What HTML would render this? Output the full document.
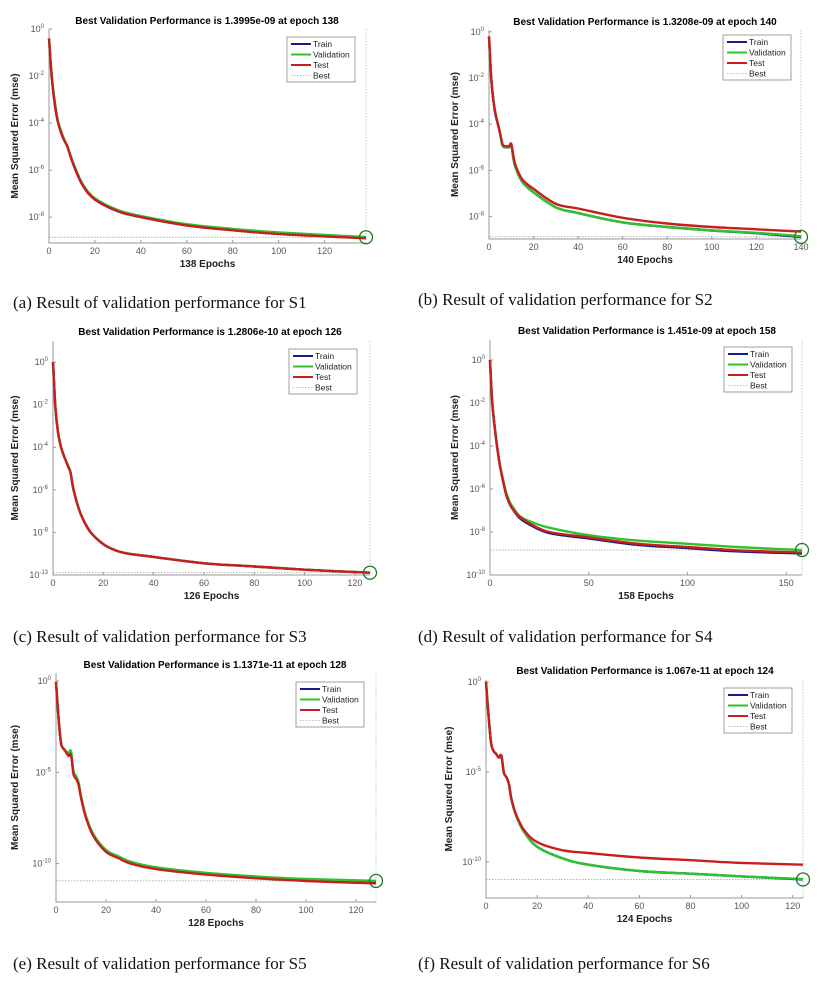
<!DOCTYPE html>
<html><head><meta charset="utf-8"><style>
html,body{margin:0;padding:0;background:#fff;width:817px;height:984px;overflow:hidden}
svg{display:block}
.cap{font-family:"Liberation Serif",serif;font-size:17px;fill:#111}
.ttl{font-family:"Liberation Sans",sans-serif;font-size:10px;font-weight:bold;fill:#000}
.tk{font-family:"Liberation Sans",sans-serif;font-size:9px;fill:#555}
.sup{font-size:6px}
.lab{font-family:"Liberation Sans",sans-serif;font-size:10px;font-weight:bold;fill:#222}
.leg{font-family:"Liberation Sans",sans-serif;font-size:8.5px;fill:#222}
</style></head><body>
<svg id="fig" width="817" height="984" viewBox="0 0 817 984" xmlns="http://www.w3.org/2000/svg"></svg>
<script>
// ---- data (log10 of MSE) ----
const epochsA=[0,1,2,3,4,6,8,10,12,15,20,30,40,60,80,100,120,138];
const trainA=[-0.4,-1.8,-2.8,-3.5,-4.0,-4.6,-5.0,-5.6,-6.1,-6.7,-7.25,-7.75,-8.0,-8.35,-8.55,-8.7,-8.8,-8.87];
const valA=[-0.4,-1.8,-2.7,-3.4,-3.95,-4.55,-5.0,-5.55,-6.05,-6.65,-7.2,-7.7,-7.95,-8.3,-8.5,-8.65,-8.76,-8.85];
const testA=[-0.4,-1.8,-2.8,-3.5,-4.0,-4.6,-5.0,-5.6,-6.1,-6.7,-7.25,-7.75,-8.0,-8.35,-8.56,-8.72,-8.82,-8.9];

const epochsB=[0,1,2,3,4,5,6,7,8,9,10,11,12,15,20,30,40,60,80,100,120,140];
const trainB=[-0.2,-2.0,-3.0,-3.6,-4.0,-4.4,-4.9,-5.0,-5.0,-5.0,-4.9,-5.5,-5.9,-6.5,-6.95,-7.6,-7.85,-8.25,-8.45,-8.6,-8.72,-8.88];
const valB=[-0.2,-2.0,-3.0,-3.6,-4.0,-4.4,-4.9,-5.0,-5.0,-5.0,-4.9,-5.5,-5.9,-6.5,-6.95,-7.6,-7.85,-8.25,-8.45,-8.6,-8.7,-8.85];
const testB=[-0.2,-2.0,-3.0,-3.6,-4.0,-4.4,-4.85,-4.95,-4.95,-4.95,-4.85,-5.4,-5.8,-6.4,-6.8,-7.45,-7.65,-8.05,-8.3,-8.45,-8.55,-8.65];

const epochsC=[0,1,2,3,4,5,6,7,8,10,12,15,20,25,30,40,60,80,100,126];
const trainC=[0,-2.2,-3.3,-3.9,-4.3,-4.6,-4.9,-5.2,-5.9,-6.8,-7.4,-8.0,-8.55,-8.85,-9.0,-9.15,-9.45,-9.6,-9.75,-9.89];
const valC=[0,-2.2,-3.3,-3.9,-4.3,-4.6,-4.85,-5.2,-5.9,-6.8,-7.4,-8.0,-8.55,-8.85,-9.0,-9.15,-9.45,-9.6,-9.75,-9.89];
const testC=[0,-2.2,-3.3,-3.9,-4.3,-4.6,-4.9,-5.2,-5.9,-6.8,-7.4,-8.0,-8.55,-8.85,-9.0,-9.15,-9.45,-9.6,-9.75,-9.89];

const epochsD=[0,1,2,3,4,5,6,8,10,12,15,20,30,50,75,100,125,158];
const trainD=[0,-1.8,-2.8,-3.6,-4.3,-4.9,-5.35,-6.2,-6.7,-7.0,-7.35,-7.65,-8.05,-8.3,-8.6,-8.75,-8.9,-9.0];
const valD=[0,-1.8,-2.8,-3.6,-4.3,-4.9,-5.3,-6.1,-6.6,-6.9,-7.25,-7.5,-7.8,-8.15,-8.4,-8.55,-8.7,-8.84];
const testD=[0,-1.8,-2.8,-3.6,-4.3,-4.9,-5.35,-6.2,-6.7,-7.0,-7.3,-7.6,-8.0,-8.25,-8.55,-8.7,-8.85,-8.96];

const epochsE=[0,1,2,3,4,5,6,7,8,9,10,12,15,20,25,30,40,60,80,100,128];
const trainE=[-0.05,-2.0,-3.4,-3.7,-3.85,-4.0,-4.0,-5.05,-5.3,-5.6,-6.35,-7.45,-8.45,-9.3,-9.65,-9.95,-10.25,-10.55,-10.75,-10.9,-11.05];
const valE=[-0.05,-2.0,-3.4,-3.7,-3.85,-3.95,-3.85,-4.95,-5.2,-5.55,-6.3,-7.4,-8.4,-9.25,-9.6,-9.9,-10.2,-10.5,-10.7,-10.84,-10.94];
const testE=[-0.05,-2.0,-3.4,-3.7,-3.9,-4.1,-4.05,-5.1,-5.35,-5.65,-6.4,-7.5,-8.5,-9.35,-9.7,-10.0,-10.3,-10.6,-10.8,-10.95,-11.08];

const epochsF=[0,1,2,3,4,5,6,7,8,9,10,12,15,20,30,40,60,80,100,124];
const trainF=[0,-1.9,-3.4,-3.85,-4.0,-4.2,-4.1,-5.05,-5.3,-5.7,-6.55,-7.5,-8.35,-9.15,-9.8,-10.15,-10.5,-10.65,-10.8,-10.97];
const valF=[0,-1.9,-3.4,-3.85,-4.0,-4.2,-4.1,-5.05,-5.3,-5.7,-6.55,-7.5,-8.35,-9.15,-9.8,-10.15,-10.5,-10.65,-10.8,-10.95];
const testF=[0,-1.9,-3.4,-3.85,-4.0,-4.2,-4.1,-5.05,-5.3,-5.7,-6.55,-7.45,-8.25,-8.9,-9.35,-9.5,-9.75,-9.9,-10.05,-10.15];

const bestVals=[-8.854,-8.879,-9.893,-8.838,-10.944,-10.972];
const bestEpochs=[138,140,126,158,128,124];
const titles=["1.3995e-09 at epoch 138","1.3208e-09 at epoch 140","1.2806e-10 at epoch 126","1.451e-09 at epoch 158","1.1371e-11 at epoch 128","1.067e-11 at epoch 124"];
const yTicksAB=[0,-2,-4,-6,-8];
const yTicksCD=[0,-2,-4,-6,-8,-10];
const yTicksEF=[0,-5,-10];
const yTickLabC=["0","-2","-4","-6","-8","-13"];
const xTicksA=[0,20,40,60,80,100,120];
const xTicksB=[0,20,40,60,80,100,120,140];
const xTicksD=[0,50,100,150];
const captions=["(a) Result of validation performance for S1","(b) Result of validation performance for S2","(c) Result of validation performance for S3","(d) Result of validation performance for S4","(e) Result of validation performance for S5","(f) Result of validation performance for S6"];
const letters=["a","b","c","d","e","f"];

// ---- layout ----
const panels=[
 {ep:epochsA,tr:trainA,va:valA,te:testA,x0:49,x1:366,xmax:138,y0:29,y1:243,ytop:0,ybot:-9.1,yt:yTicksAB,xt:xTicksA,tx:207,ty:24,leg:[287,37],cap:[13,308],lx:18},
 {ep:epochsB,tr:trainB,va:valB,te:testB,x0:489,x1:801,xmax:140,y0:30,y1:239,ytop:0.08,ybot:-8.97,yt:yTicksAB,xt:xTicksB,tx:645,ty:25,leg:[723,35],cap:[418,305],lx:458},
 {ep:epochsC,tr:trainC,va:valC,te:testC,x0:53,x1:370,xmax:126,y0:341,y1:575,ytop:0.99,ybot:-10,yt:yTicksCD,xt:xTicksA,ytl:yTickLabC,tx:210,ty:335,leg:[289,349],cap:[13,642],lx:18},
 {ep:epochsD,tr:trainD,va:valD,te:testD,x0:490,x1:802,xmax:158,y0:340,y1:575,ytop:0.93,ybot:-10,yt:yTicksCD,xt:xTicksD,tx:647,ty:334,leg:[724,347],cap:[418,642],lx:458},
 {ep:epochsE,tr:trainE,va:valE,te:testE,x0:56,x1:376,xmax:128,y0:673,y1:902,ytop:0.44,ybot:-12.1,yt:yTicksEF,xt:xTicksA,tx:215,ty:668,leg:[296,682],cap:[13,969],lx:18},
 {ep:epochsF,tr:trainF,va:valF,te:testF,x0:486,x1:803,xmax:124,y0:680,y1:898,ytop:0.1,ybot:-12,yt:yTicksEF,xt:xTicksA,tx:645,ty:674,leg:[724,688],cap:[418,969],lx:452}
];
const NS="http://www.w3.org/2000/svg";
const fig=document.getElementById('fig');
function mk(tag,attrs,parent){const e=document.createElementNS(NS,tag);for(const k in attrs)e.setAttribute(k,attrs[k]);(parent||fig).appendChild(e);return e;}
function smooth(pts){
  let d='M'+pts[0][0].toFixed(1)+','+pts[0][1].toFixed(1);
  for(let i=0;i<pts.length-1;i++){
    const p0=pts[Math.max(0,i-1)],p1=pts[i],p2=pts[i+1],p3=pts[Math.min(pts.length-1,i+2)];
    const c1x=p1[0]+(p2[0]-p0[0])/6,c1y=p1[1]+(p2[1]-p0[1])/6;
    const c2x=p2[0]-(p3[0]-p1[0])/6,c2y=p2[1]-(p3[1]-p1[1])/6;
    d+=`C${c1x.toFixed(1)},${c1y.toFixed(1)} ${c2x.toFixed(1)},${c2y.toFixed(1)} ${p2[0].toFixed(1)},${p2[1].toFixed(1)}`;
  }
  return d;
}

panels.forEach((p,i)=>{
  const L=letters[i];
  const g=mk('g',{});
  
  
  const sx=v=>p.x0+(v/p.xmax)*(p.x1-p.x0);
  const sy=v=>p.y0+(p.ytop-v)/(p.ytop-p.ybot)*(p.y1-p.y0);
  const t=mk('text',{x:p.tx,y:p.ty,'text-anchor':'middle',class:'ttl'},g);
  t.textContent='Best Validation Performance is '+titles[i];
  
  
  const ax=mk('path',{d:`M${p.x0},${p.y0}V${p.y1}H${p.x1}`,stroke:'#999',fill:'none','stroke-width':1},g);
  
  
  p.yt.forEach((v,k)=>{
    const y=sy(v);
    mk('line',{x1:p.x0,x2:p.x0+3,y1:y,y2:y,stroke:'#999'},g);
    const tt=mk('text',{x:p.x0-5,y:y+3,'text-anchor':'end',class:'tk'},g);
    
    
    tt.appendChild(document.createTextNode('10'));
    const s=mk('tspan',{dy:-4,class:'sup'},tt);
    s.textContent=p.ytl?p.ytl[k]:String(v);
  });
  p.xt.forEach(v=>{
    const x=sx(v);
    mk('line',{x1:x,x2:x,y1:p.y1,y2:p.y1-3,stroke:'#999'},g);
    const tt=mk('text',{x:x,y:p.y1+11,'text-anchor':'middle',class:'tk'},g);
    
    
    tt.textContent=v;
  });
  const xl=mk('text',{x:(p.x0+p.x1)/2,y:p.y1+24,'text-anchor':'middle',class:'lab'},g);
  xl.textContent=p.xmax+' Epochs';
  
  
  const cy=(p.y0+p.y1)/2;
  const yl=mk('text',{x:p.lx,y:cy,'text-anchor':'middle',class:'lab',transform:`rotate(-90 ${p.lx} ${cy})`},g);
  yl.textContent='Mean Squared Error  (mse)';
  
  
  const by=sy(bestVals[i]), bx=sx(bestEpochs[i]);
  mk('line',{x1:p.x0,x2:p.x1,y1:by,y2:by,stroke:'#999','stroke-dasharray':'1.5,1.5','stroke-width':0.8},g);
  mk('line',{x1:bx,x2:bx,y1:p.y0,y2:p.y1,stroke:'#bbb','stroke-dasharray':'1.5,1.5','stroke-width':0.8},g);
  [[p.tr,'#1a1a8c','train'],[p.va,'#2bc42b','validation'],[p.te,'#c81e1e','test']].forEach(([arr,c,n])=>{
    const pts=arr.map((v,k)=>[sx(p.ep[k]),sy(v)]);
    const pl=mk('path',{d:smooth(pts),stroke:c,'stroke-width':2.4,fill:'none','stroke-linejoin':'round'},g);
    
    
  });
  const ci=mk('circle',{cx:bx,cy:by,r:6.5,stroke:'#1d7a1d','stroke-width':1.3,fill:'none'},g);
  
  
  const [lx,ly]=p.leg;
  const lg=mk('g',{},g);
  
  
  mk('rect',{x:lx,y:ly,width:68,height:45,fill:'#fff',stroke:'#888','stroke-width':0.8},lg);
  [['Train','#1a1a8c'],['Validation','#2bc42b'],['Test','#c81e1e'],['Best','#aaa']].forEach(([n,c],k)=>{
    const yy=ly+7+k*10.5;
    mk('line',{x1:lx+4,x2:lx+24,y1:yy,y2:yy,stroke:c,'stroke-width':n==='Best'?0.8:2,'stroke-dasharray':n==='Best'?'1.5,1.5':'none'},lg);
    const lt=mk('text',{x:lx+26,y:yy+3,class:'leg'},lg);
    lt.textContent=n;
    
    
  });
  const cp=mk('text',{x:p.cap[0],y:p.cap[1],class:'cap'},g);
  cp.textContent=captions[i];
  
  
});
</script>
</body></html>
